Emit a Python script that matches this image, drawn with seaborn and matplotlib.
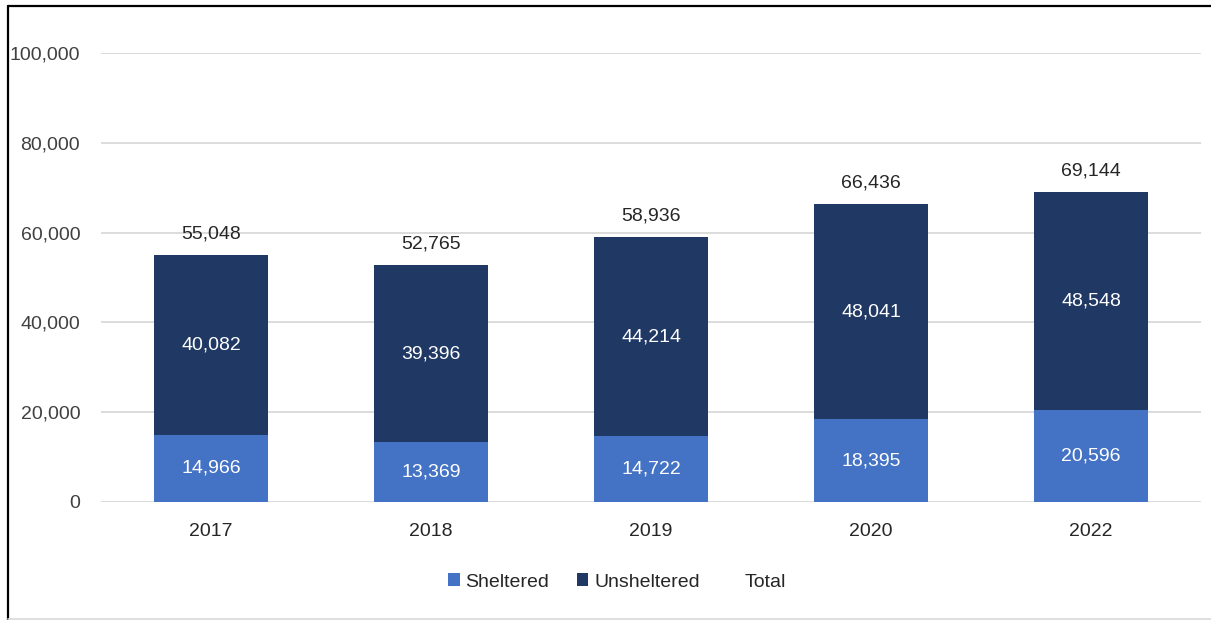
import matplotlib
matplotlib.use("Agg")
import matplotlib.pyplot as plt
from matplotlib.patches import Patch
from matplotlib.lines import Line2D
from matplotlib.ticker import FuncFormatter
import seaborn as sns
import pandas as pd
from matplotlib import font_manager

years = ["2017", "2018", "2019", "2020", "2022"]
sheltered = [14966, 13369, 14722, 18395, 20596]
unsheltered = [40082, 39396, 44214, 48041, 48548]
y_ticks = [0, 20000, 40000, 60000, 80000, 100000]

SHELTERED_COLOR = "#4472C4"
UNSHELTERED_COLOR = "#203864"
TEXT_COLOR = "#262626"

sns.set_theme(style="white")
available = {f.name for f in font_manager.fontManager.ttflist}
family = [f for f in ["Liberation Sans Narrow", "Liberation Sans", "DejaVu Sans"] if f in available]
plt.rcParams["font.family"] = family

totals = [s + u for s, u in zip(sheltered, unsheltered)]
df = pd.DataFrame({"year": years, "sheltered": sheltered,
                   "unsheltered": unsheltered, "total": totals})

fig = plt.figure(figsize=(12.11, 6.2), dpi=100)
ax = fig.add_axes([101 / 1211, 1 - 502 / 620, 1100 / 1211, (502 - 53) / 620])

# Full-height bars in the dark colour, sheltered share drawn over them
sns.barplot(data=df, x="year", y="total", color=UNSHELTERED_COLOR,
            width=0.52, saturation=1, linewidth=0, ax=ax, zorder=2)
sns.barplot(data=df, x="year", y="sheltered", color=SHELTERED_COLOR,
            width=0.52, saturation=1, linewidth=0, ax=ax, zorder=3)

ax.set_ylim(0, 100000)
ax.set_yticks(y_ticks)
ax.yaxis.set_major_formatter(FuncFormatter(lambda v, p: f"{int(v):,}"))
ax.set_xlabel("")
ax.set_ylabel("")
ax.grid(axis="y", color="#D9D9D9", linewidth=1.3, zorder=0)
ax.set_axisbelow(True)
for side in ["top", "right", "left", "bottom"]:
    ax.spines[side].set_visible(False)
ax.tick_params(axis="y", length=0, pad=15, labelsize=14, labelcolor="#404040")
ax.tick_params(axis="x", length=0, pad=15, labelsize=14, labelcolor=TEXT_COLOR)
ax.set_xlim(-0.5, len(years) - 0.5)

for i, (s, u, t) in enumerate(zip(sheltered, unsheltered, totals)):
    ax.text(i, s / 2, f"{s:,}", ha="center", va="center", color="white",
            fontsize=14, zorder=5)
    ax.text(i, s + u / 2, f"{u:,}", ha="center", va="center", color="white",
            fontsize=14, zorder=5)
    ax.annotate(f"{t:,}", (i, t), xytext=(0, 9), textcoords="offset points",
                ha="center", va="bottom", color=TEXT_COLOR, fontsize=14)

handles = [
    Patch(facecolor=SHELTERED_COLOR, edgecolor="none"),
    Patch(facecolor=UNSHELTERED_COLOR, edgecolor="none"),
    Line2D([], [], color="none"),
]
fig.legend(handles, ["Sheltered", "Unsheltered", "Total"], loc="center",
           bbox_to_anchor=(617 / 1211, 1 - 582 / 620), ncol=3, frameon=False,
           fontsize=14, handlelength=0.6, handleheight=0.6, handletextpad=0.3,
           columnspacing=1.4, labelcolor=TEXT_COLOR)

# Outer frame
fig.add_artist(Line2D([7.5 / 1211, 7.5 / 1211], [1 - 5.5 / 620, 0], color="black",
                      linewidth=1.6, transform=fig.transFigure))
fig.add_artist(Line2D([7.5 / 1211, 1], [1 - 5.5 / 620, 1 - 5.5 / 620], color="black",
                      linewidth=1.6, transform=fig.transFigure))
fig.add_artist(Line2D([7.5 / 1211, 1], [1.5 / 620, 1.5 / 620], color="#D9D9D9",
                      linewidth=1.2, transform=fig.transFigure))

fig.savefig("out.png", dpi=100)
